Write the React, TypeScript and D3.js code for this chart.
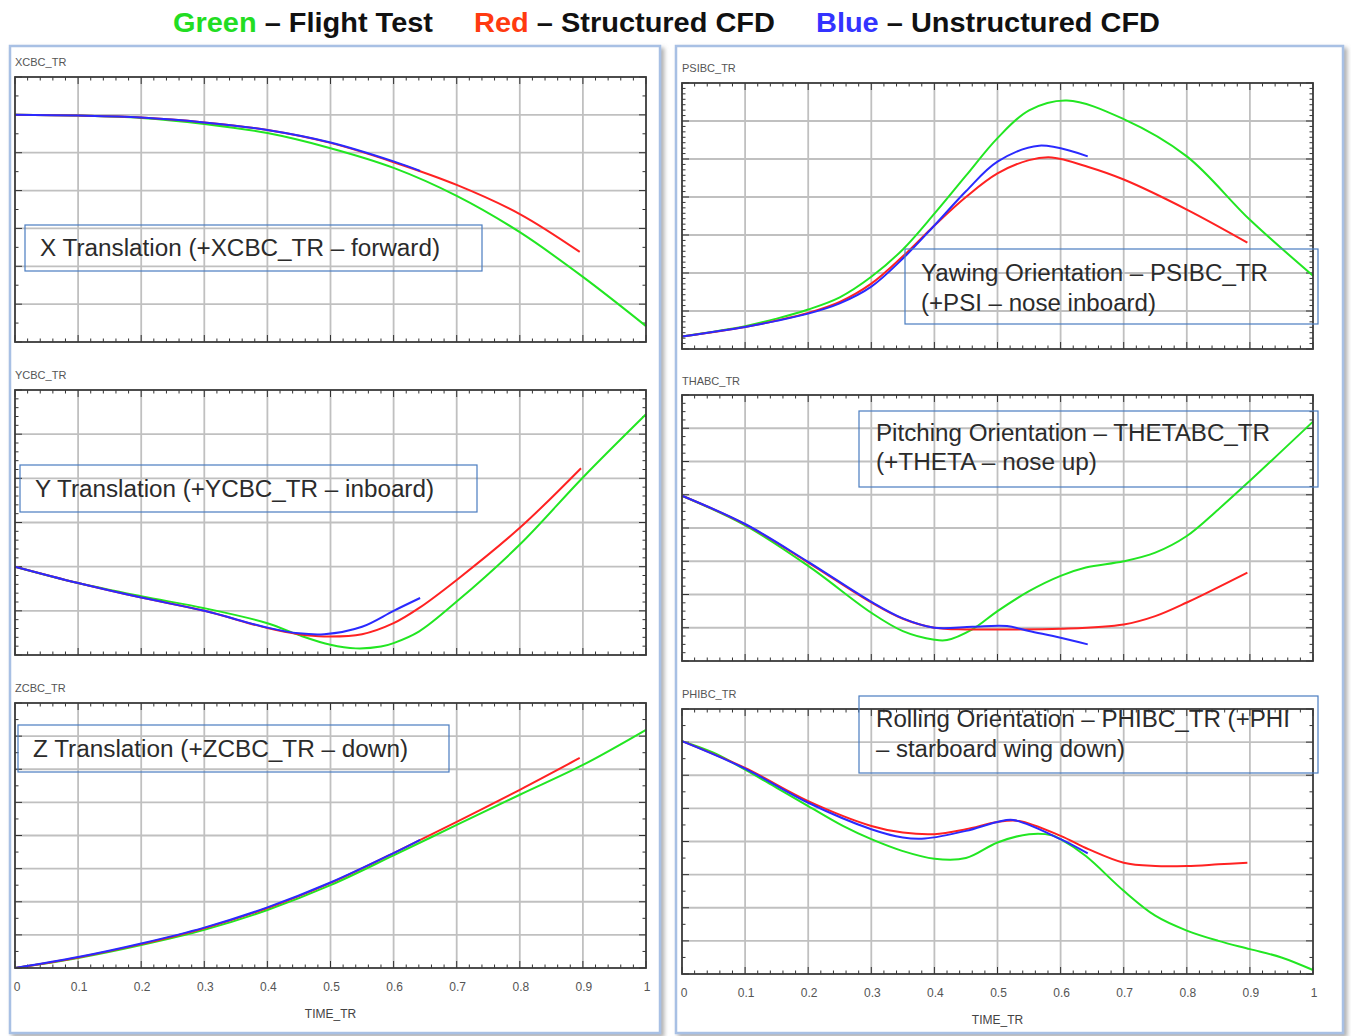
import React from "react";
import * as d3 from "d3";

// ---------- DATA (time, value in grid units) ----------
const timeTicks = [0, 0.1, 0.2, 0.3, 0.4, 0.5, 0.6, 0.7, 0.8, 0.9, 1];
const timeTickLabels = ["0", "0.1", "0.2", "0.3", "0.4", "0.5", "0.6", "0.7", "0.8", "0.9", "1"];

// XCBC_TR
const xcbcGreen: [number, number][] = [[0, 6.0], [0.1, 5.98], [0.2, 5.92], [0.3, 5.76], [0.4, 5.52], [0.5, 5.12], [0.6, 4.6], [0.7, 3.86], [0.8, 2.9], [0.9, 1.72], [1.0, 0.42]];
const xcbcRed: [number, number][] = [[0, 6.0], [0.1, 5.98], [0.2, 5.93], [0.3, 5.8], [0.4, 5.6], [0.5, 5.26], [0.6, 4.75], [0.7, 4.15], [0.8, 3.38], [0.895, 2.38]];
const xcbcBlue: [number, number][] = [[0, 6.0], [0.1, 5.98], [0.2, 5.93], [0.3, 5.8], [0.4, 5.6], [0.5, 5.27], [0.6, 4.77], [0.642, 4.52]];

// YCBC_TR
const ycbcGreen: [number, number][] = [[0, 2.0], [0.1, 1.63], [0.2, 1.33], [0.3, 1.06], [0.4, 0.72], [0.45, 0.45], [0.5, 0.23], [0.54, 0.15], [0.58, 0.19], [0.6, 0.27], [0.64, 0.53], [0.7, 1.21], [0.8, 2.5], [0.9, 4.02], [1.0, 5.45]];
const ycbcRed: [number, number][] = [[0, 2.0], [0.1, 1.63], [0.2, 1.3], [0.3, 1.0], [0.4, 0.61], [0.45, 0.47], [0.49, 0.42], [0.55, 0.47], [0.6, 0.72], [0.64, 1.06], [0.7, 1.7], [0.8, 2.88], [0.897, 4.23]];
const ycbcBlue: [number, number][] = [[0, 2.0], [0.1, 1.63], [0.2, 1.3], [0.3, 1.0], [0.4, 0.62], [0.45, 0.49], [0.49, 0.47], [0.55, 0.64], [0.6, 1.0], [0.642, 1.29]];

// ZCBC_TR
const zcbcGreen: [number, number][] = [[0, 0], [0.1, 0.3], [0.2, 0.69], [0.3, 1.15], [0.4, 1.75], [0.5, 2.5], [0.6, 3.4], [0.7, 4.32], [0.8, 5.23], [0.9, 6.13], [1.0, 7.19]];
const zcbcRed: [number, number][] = [[0, 0], [0.1, 0.32], [0.2, 0.72], [0.3, 1.2], [0.4, 1.81], [0.5, 2.57], [0.6, 3.47], [0.7, 4.41], [0.8, 5.38], [0.895, 6.34]];
const zcbcBlue: [number, number][] = [[0, 0], [0.1, 0.33], [0.2, 0.74], [0.3, 1.22], [0.4, 1.83], [0.5, 2.58], [0.6, 3.47], [0.642, 3.87]];

// PSIBC_TR
const psiGreen: [number, number][] = [[0, 0.33], [0.1, 0.6], [0.15, 0.8], [0.2, 1.04], [0.25, 1.36], [0.3, 1.9], [0.35, 2.62], [0.4, 3.56], [0.45, 4.56], [0.5, 5.55], [0.55, 6.28], [0.61, 6.54], [0.7, 6.05], [0.8, 5.07], [0.9, 3.4], [1.0, 1.93]];
const psiRed: [number, number][] = [[0, 0.33], [0.1, 0.58], [0.15, 0.75], [0.2, 0.95], [0.25, 1.24], [0.3, 1.72], [0.35, 2.44], [0.4, 3.25], [0.45, 4.0], [0.5, 4.62], [0.55, 4.97], [0.586, 5.04], [0.644, 4.79], [0.7, 4.46], [0.8, 3.67], [0.896, 2.8]];
const psiBlue: [number, number][] = [[0, 0.33], [0.1, 0.58], [0.15, 0.74], [0.2, 0.93], [0.25, 1.2], [0.3, 1.64], [0.35, 2.38], [0.4, 3.25], [0.45, 4.15], [0.5, 4.93], [0.566, 5.35], [0.643, 5.07]];

// THABC_TR
const thaGreen: [number, number][] = [[0, 4.97], [0.1, 4.08], [0.2, 2.86], [0.3, 1.45], [0.35, 0.9], [0.4, 0.64], [0.42, 0.63], [0.46, 0.95], [0.5, 1.5], [0.55, 2.1], [0.6, 2.56], [0.64, 2.81], [0.7, 3.0], [0.75, 3.26], [0.8, 3.76], [0.85, 4.56], [0.9, 5.42], [1.0, 7.2]];
const thaRed: [number, number][] = [[0, 4.97], [0.1, 4.11], [0.2, 2.96], [0.3, 1.76], [0.35, 1.27], [0.4, 1.0], [0.45, 0.95], [0.5, 0.95], [0.6, 0.97], [0.7, 1.1], [0.75, 1.35], [0.8, 1.76], [0.896, 2.66]];
const thaBlue: [number, number][] = [[0, 4.97], [0.1, 4.12], [0.2, 2.98], [0.3, 1.78], [0.35, 1.28], [0.4, 1.0], [0.46, 1.03], [0.515, 1.05], [0.55, 0.9], [0.6, 0.7], [0.643, 0.5]];

// PHIBC_TR
const phiGreen: [number, number][] = [[0, 7.03], [0.05, 6.68], [0.1, 6.17], [0.15, 5.62], [0.2, 5.07], [0.255, 4.47], [0.3, 4.07], [0.35, 3.71], [0.4, 3.48], [0.45, 3.5], [0.5, 3.97], [0.55, 4.22], [0.586, 4.19], [0.6, 4.07], [0.64, 3.56], [0.7, 2.51], [0.75, 1.76], [0.8, 1.31], [0.85, 1.0], [0.9, 0.75], [0.95, 0.5], [1.0, 0.12]];
const phiRed: [number, number][] = [[0, 7.03], [0.1, 6.22], [0.2, 5.22], [0.3, 4.47], [0.35, 4.27], [0.4, 4.22], [0.45, 4.37], [0.5, 4.59], [0.534, 4.62], [0.6, 4.17], [0.644, 3.77], [0.7, 3.36], [0.75, 3.26], [0.8, 3.26], [0.85, 3.31], [0.896, 3.36]];
const phiBlue: [number, number][] = [[0, 7.03], [0.1, 6.2], [0.2, 5.17], [0.3, 4.37], [0.35, 4.12], [0.385, 4.09], [0.45, 4.32], [0.5, 4.59], [0.525, 4.65], [0.6, 4.07], [0.643, 3.64]];

// ---------- LAYOUT ----------
const GREEN = "#22e622";
const RED = "#ff2222";
const BLUE = "#2a2aff";

type Plot = {
  x0: number; x1: number; y0: number; y1: number;
  ydiv: number; yminor: number; title: string; titleY: number;
  green: [number, number][]; red: [number, number][]; blue: [number, number][];
  box: { x: number; y: number; w: number; h: number; tx: number; lines: string[]; base: number[]; widths: number[] };
};

const plots: Plot[] = [
  { x0: 15, x1: 646, y0: 77, y1: 342, ydiv: 7, yminor: 2, title: "XCBC_TR", titleY: 66, green: xcbcGreen, red: xcbcRed, blue: xcbcBlue,
    box: { x: 25, y: 225, w: 457, h: 46, tx: 40, lines: ["X Translation (+XCBC_TR \u2013 forward)"], base: [256], widths: [400] } },
  { x0: 15, x1: 646, y0: 390, y1: 655, ydiv: 6, yminor: 5, title: "YCBC_TR", titleY: 379, green: ycbcGreen, red: ycbcRed, blue: ycbcBlue,
    box: { x: 20, y: 465, w: 457, h: 47, tx: 35, lines: ["Y Translation (+YCBC_TR \u2013 inboard)"], base: [497], widths: [399] } },
  { x0: 15, x1: 646, y0: 703, y1: 968, ydiv: 8, yminor: 2, title: "ZCBC_TR", titleY: 692, green: zcbcGreen, red: zcbcRed, blue: zcbcBlue,
    box: { x: 18, y: 725, w: 431, h: 47, tx: 33, lines: ["Z Translation (+ZCBC_TR \u2013 down)"], base: [757], widths: [375] } },
  { x0: 682, x1: 1313, y0: 83, y1: 349, ydiv: 7, yminor: 7, title: "PSIBC_TR", titleY: 72, green: psiGreen, red: psiRed, blue: psiBlue,
    box: { x: 905, y: 249, w: 413, h: 75, tx: 921, lines: ["Yawing Orientation \u2013 PSIBC_TR", "(+PSI \u2013 nose inboard)"], base: [281, 311], widths: [347, 235] } },
  { x0: 682, x1: 1313, y0: 395, y1: 661, ydiv: 8, yminor: 4, title: "THABC_TR", titleY: 385, green: thaGreen, red: thaRed, blue: thaBlue,
    box: { x: 859, y: 411, w: 459, h: 76, tx: 876, lines: ["Pitching Orientation \u2013 THETABC_TR", "(+THETA \u2013 nose up)"], base: [441, 470], widths: [394, 221] } },
  { x0: 682, x1: 1313, y0: 709, y1: 974, ydiv: 8, yminor: 2, title: "PHIBC_TR", titleY: 698, green: phiGreen, red: phiRed, blue: phiBlue,
    box: { x: 859, y: 696, w: 459, h: 77, tx: 876, lines: ["Rolling Orientation \u2013 PHIBC_TR (+PHI", "\u2013 starboard wing down)"], base: [727, 757], widths: [414, 249] } },
];

const FONT = "'Liberation Sans', Arial, Helvetica, sans-serif";

function PlotView({ p }: { p: Plot }) {
  const x = d3.scaleLinear().domain([0, 1]).range([p.x0, p.x1]);
  const y = d3.scaleLinear().domain([0, p.ydiv]).range([p.y1, p.y0]);
  const line = d3.line<[number, number]>().x((d) => x(d[0])).y((d) => y(d[1])).curve(d3.curveCatmullRom.alpha(0.5));
  const yMajor = d3.range(0, p.ydiv + 1);
  const yMinorVals = d3.range(0, p.ydiv * p.yminor + 1).map((i) => i / p.yminor);
  const xMinorVals = d3.range(0, 51).map((i) => i / 50);
  const tickColor = "#333";
  return (
    <g>
      <text x={p.x0} y={p.titleY} fontSize={11} fill="#555" fontFamily={FONT}>{p.title}</text>
      {/* grid */}
      {timeTicks.slice(1, -1).map((t) => (
        <line key={"gx" + t} x1={x(t)} x2={x(t)} y1={p.y0} y2={p.y1} stroke="#c0c0c0" strokeWidth={1.8} />
      ))}
      {yMajor.slice(1, -1).map((v) => (
        <line key={"gy" + v} x1={p.x0} x2={p.x1} y1={y(v)} y2={y(v)} stroke="#c0c0c0" strokeWidth={1.8} />
      ))}
      {/* ticks */}
      {xMinorVals.map((t, i) => {
        const major = i % 5 === 0;
        const len = major ? 7 : 3.5;
        return (
          <g key={"xt" + i}>
            <line x1={x(t)} x2={x(t)} y1={p.y1} y2={p.y1 - len} stroke={tickColor} strokeWidth={1} />
            <line x1={x(t)} x2={x(t)} y1={p.y0} y2={p.y0 + len} stroke={tickColor} strokeWidth={1} />
          </g>
        );
      })}
      {yMinorVals.map((v, i) => {
        const major = i % p.yminor === 0;
        const len = major ? 7 : 3.5;
        return (
          <g key={"yt" + i}>
            <line x1={p.x0} x2={p.x0 + len} y1={y(v)} y2={y(v)} stroke={tickColor} strokeWidth={1} />
            <line x1={p.x1} x2={p.x1 - len} y1={y(v)} y2={y(v)} stroke={tickColor} strokeWidth={1} />
          </g>
        );
      })}
      {/* curves */}
      <path d={line(p.green) || ""} fill="none" stroke={GREEN} strokeWidth={2} />
      <path d={line(p.red) || ""} fill="none" stroke={RED} strokeWidth={2} />
      <path d={line(p.blue) || ""} fill="none" stroke={BLUE} strokeWidth={2} />
      {/* frame */}
      <rect x={p.x0} y={p.y0} width={p.x1 - p.x0} height={p.y1 - p.y0} fill="none" stroke="#3a3a3a" strokeWidth={1.8} />
      {/* annotation box */}
      <rect x={p.box.x} y={p.box.y} width={p.box.w} height={p.box.h} fill="none" stroke="#4a7cc0" strokeWidth={1.2} />
      {p.box.lines.map((s, i) => (
        <text key={i} x={p.box.tx} y={p.box.base[i]} fontSize={23} fill="#2b2b2b" fontFamily={FONT}
          textLength={p.box.widths[i]} lengthAdjust="spacingAndGlyphs">{s}</text>
      ))}
    </g>
  );
}

function XLabels({ x0, x1, y, titleY }: { x0: number; x1: number; y: number; titleY: number }) {
  const x = d3.scaleLinear().domain([0, 1]).range([x0, x1]);
  return (
    <g>
      {timeTicks.map((t, i) => (
        <text key={i} x={x(t) + (i === 0 ? 2 : 1)} y={y} fontSize={12} fill="#555" textAnchor="middle" fontFamily={FONT}>
          {timeTickLabels[i]}
        </text>
      ))}
      <text x={(x0 + x1) / 2} y={titleY} fontSize={12} fill="#444" textAnchor="middle" fontFamily={FONT}>TIME_TR</text>
    </g>
  );
}

export default function App() {
  return (
    <svg width={1351} height={1036} style={{ position: "absolute", left: 0, top: 0, display: "block", background: "#fff" }}>
      <defs>
        <filter id="sh" x="-5%" y="-5%" width="110%" height="110%">
          <feDropShadow dx={3} dy={3} stdDeviation={2} floodColor="#777" floodOpacity={0.6} />
        </filter>
      </defs>
      <rect width={1351} height={1036} fill="#fff" />
      {/* legend title */}
      <g fontFamily={FONT} fontWeight="bold" fontSize={27}>
        <text x={173} y={32} textLength={260} lengthAdjust="spacingAndGlyphs">
          <tspan fill="#22dd22">Green</tspan><tspan fill="#111"> {"\u2013"} Flight Test</tspan>
        </text>
        <text x={474} y={32} textLength={301} lengthAdjust="spacingAndGlyphs">
          <tspan fill="#ff3a10">Red</tspan><tspan fill="#111"> {"\u2013"} Structured CFD</tspan>
        </text>
        <text x={816} y={32} textLength={344} lengthAdjust="spacingAndGlyphs">
          <tspan fill="#3333ff">Blue</tspan><tspan fill="#111"> {"\u2013"} Unstructured CFD</tspan>
        </text>
      </g>
      {/* panels */}
      <rect x={10} y={46} width={650} height={987} fill="#fff" stroke="#a8c0e4" strokeWidth={2.5} filter="url(#sh)" />
      <rect x={676} y={46} width={667} height={987} fill="#fff" stroke="#a8c0e4" strokeWidth={2.5} filter="url(#sh)" />
      {plots.map((p, i) => <PlotView key={i} p={p} />)}
      <XLabels x0={15} x1={646} y={991} titleY={1018} />
      <XLabels x0={682} x1={1313} y={997} titleY={1024} />
    </svg>
  );
}
